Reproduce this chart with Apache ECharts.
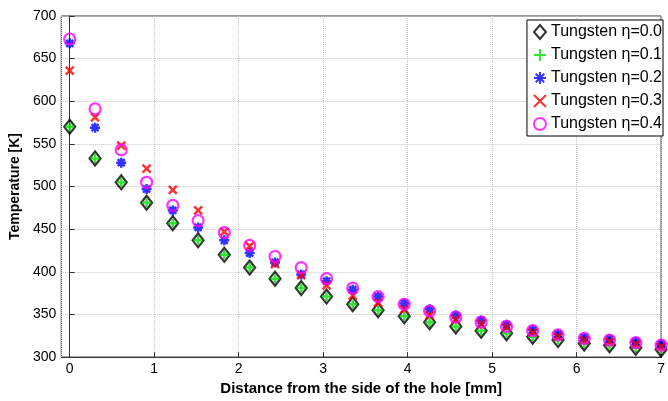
<!DOCTYPE html>
<html>
<head>
<meta charset="utf-8">
<script src="https://cdn.jsdelivr.net/npm/echarts@6/dist/echarts.min.js"></script>
<style>
  html, body { margin: 0; padding: 0; background: #fff; }
  #chart { width: 668px; height: 401px; }
</style>
</head>
<body>
<div id="chart"></div>
<script>
// distance from the side of the hole [mm]
var distance = [0, 0.30, 0.61, 0.91, 1.22, 1.52, 1.83, 2.13, 2.43, 2.74, 3.04, 3.35,
                3.65, 3.96, 4.26, 4.57, 4.87, 5.17, 5.48, 5.78, 6.09, 6.39, 6.70, 7.00];
// temperature [K] for each eta
var eta00 = [570, 533, 505, 481, 457, 437, 420, 405, 392, 381, 371, 362,
             355, 348, 341, 336, 331, 328, 324, 320, 316, 314, 311, 309];
var eta01 = [570, 533, 505, 481, 457, 437, 420, 405, 392, 381, 371, 362,
             355, 348, 341, 336, 331, 328, 324, 320, 316, 314, 311, 309];
var eta02 = [668, 569, 528, 497, 472, 452, 437, 422, 411, 397, 389, 379,
             371, 363, 356, 349, 343, 338, 332, 327, 323, 321, 318, 315];
var eta03 = [636, 581, 548, 521, 496, 472, 447, 430, 409, 396, 384, 372,
             364, 356, 349, 344, 339, 335, 329, 324, 320, 318, 315, 312];
var eta04 = [673, 591, 543, 505, 478, 460, 446, 431, 418, 405, 392, 381,
             371, 362, 354, 347, 341, 336, 331, 326, 322, 320, 317, 314];
var seriesNames = ['Tungsten \u03b7=0.0', 'Tungsten \u03b7=0.1', 'Tungsten \u03b7=0.2',
                   'Tungsten \u03b7=0.3', 'Tungsten \u03b7=0.4'];

function pairs(ys) {
  return distance.map(function (x, i) { return [x, ys[i]]; });
}

var myChart = echarts.init(document.getElementById('chart'));
var font = 'Liberation Sans, Arial, Helvetica, sans-serif';

function scatter(name, ys, symbol, size, color, width) {
  return {
    name: name,
    type: 'scatter',
    data: pairs(ys),
    symbol: symbol,
    symbolSize: size,
    itemStyle: { color: 'rgba(0,0,0,0)', borderColor: color, borderWidth: width },
    emphasis: { disabled: true },
    animation: false
  };
}

myChart.setOption({
  animation: false,
  textStyle: { fontFamily: font },
  grid: {
    left: 60, right: 5, top: 16, bottom: 36,
    show: true, borderColor: '#333', borderWidth: 1, backgroundColor: '#fff'
  },
  legend: {
    orient: 'vertical',
    right: 5, top: 20,
    itemWidth: 12, itemHeight: 14, itemGap: 7,
    padding: [4, 1, 4, 6],
    backgroundColor: '#fff',
    borderColor: '#000', borderWidth: 1,
    textStyle: { fontSize: 16, color: '#000', fontFamily: font },
    data: seriesNames
  },
  xAxis: {
    type: 'value',
    min: -0.1, max: 7, splitNumber: 7,
    name: 'Distance from the side of the hole [mm]',
    nameLocation: 'middle', nameGap: 16,
    nameTextStyle: { fontSize: 15, fontWeight: 'bold', color: '#000' },
    axisLine: { lineStyle: { color: '#333' } },
    axisTick: { inside: true, length: 5, lineStyle: { color: '#333' } },
    axisLabel: { showMinLabel: false, fontSize: 14, color: '#000', margin: 5 },
    splitLine: { show: true, lineStyle: { color: '#c4c4c4', type: 'dotted' } }
  },
  yAxis: {
    type: 'value',
    min: 300, max: 700, interval: 50,
    name: 'Temperature [K]',
    nameLocation: 'middle', nameGap: 36,
    nameTextStyle: { fontSize: 14, fontWeight: 'bold', color: '#000' },
    axisLine: { show: true, lineStyle: { color: '#333' } },
    axisTick: { show: true, inside: true, length: 5, lineStyle: { color: '#333' } },
    axisLabel: { fontSize: 14, color: '#000', margin: 5 },
    splitLine: { show: true, lineStyle: { color: '#c4c4c4', type: 'dotted' } }
  },
  series: [
    scatter(seriesNames[0], eta00, 'diamond', [11, 14], '#000', 2.2),
    scatter(seriesNames[1], eta01, 'path://M5,0L5,10M0,5L10,5', 9, '#00dd00', 2.5),
    scatter(seriesNames[2], eta02, 'path://M5,0L5,10M0,5L10,5M1.5,1.5L8.5,8.5M8.5,1.5L1.5,8.5', 10, '#0000ff', 2.5),
    scatter(seriesNames[3], eta03, 'path://M0,0L10,10M10,0L0,10', 8, '#ff0000', 2.5),
    scatter(seriesNames[4], eta04, 'circle', 11, '#ff00ff', 2.2)
  ]
});
</script>
</body>
</html>
